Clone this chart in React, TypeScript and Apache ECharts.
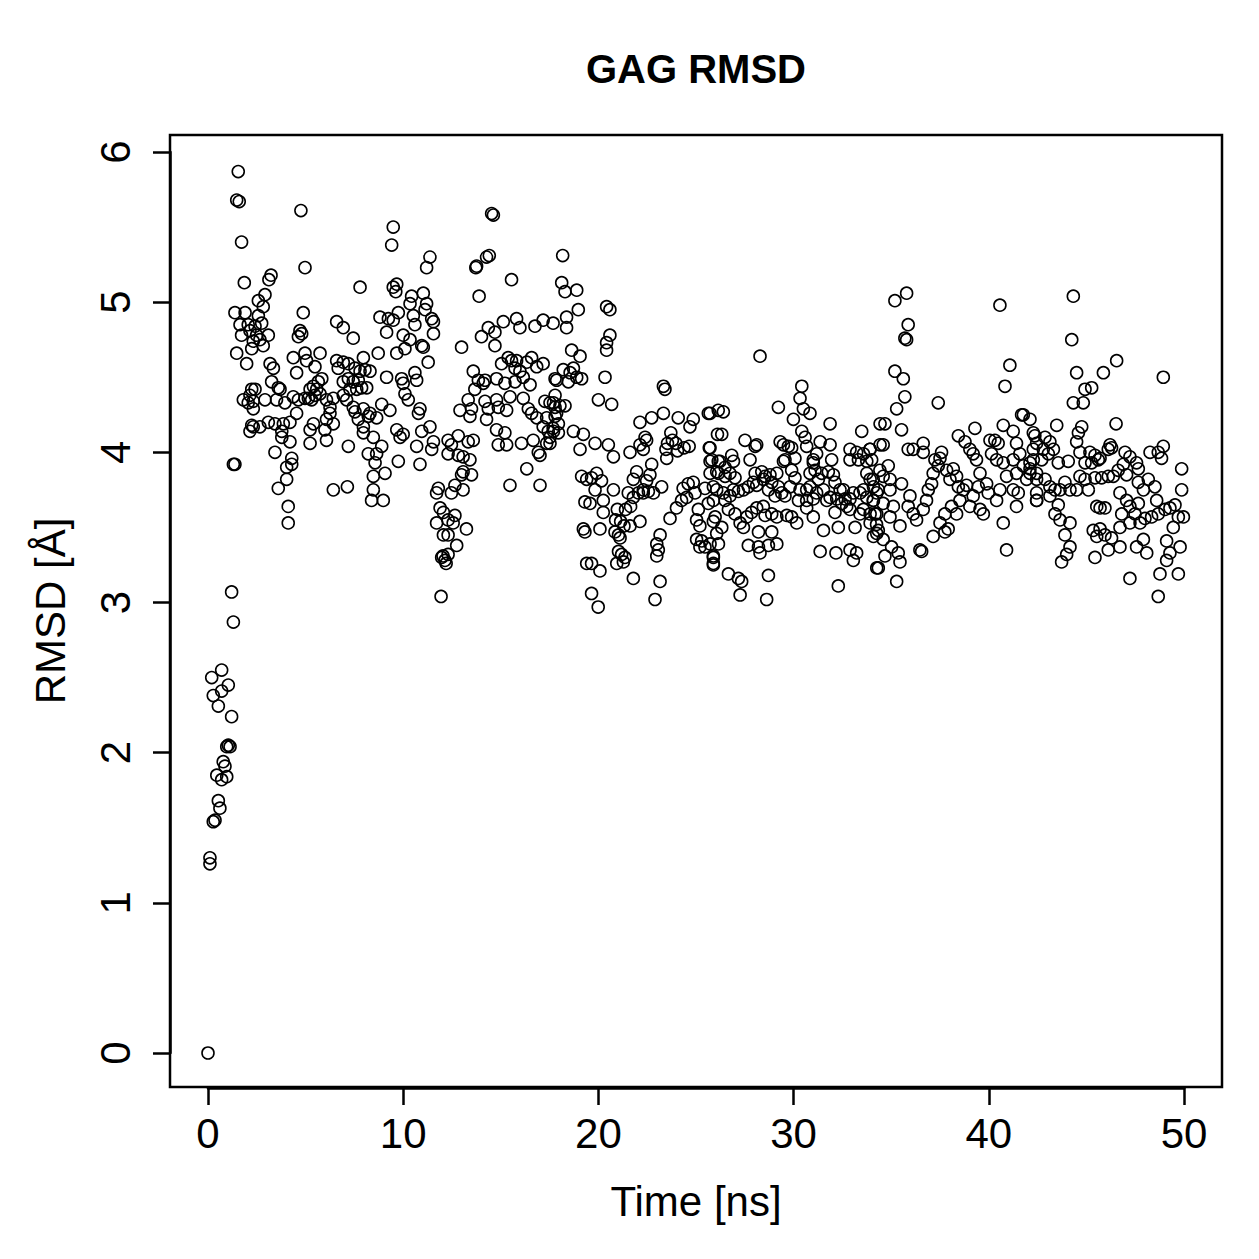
import React, { useEffect, useRef } from "react";
import * as echarts from "echarts";

// [time (ns), RMSD (Å)], grouped by time range
const early: number[][] = [
  [0, 0], [0.1, 1.3], [0.1, 1.26], [0.19, 2.5], [0.27, 2.38], [0.27, 1.54], [0.36, 1.55], [0.45, 1.85],
  [0.53, 1.68], [0.53, 2.31], [0.61, 1.63], [0.7, 1.82], [0.7, 2.55], [0.7, 2.41], [0.78, 1.94], [0.87, 1.91],
  [0.96, 1.84], [0.96, 2.04], [1.04, 2.05], [1.04, 2.45], [1.13, 2.04], [1.21, 2.24], [1.21, 3.07], [1.3, 2.87],
  [1.3, 3.92],
];

const seg1: number[][] = [
  [1.55, 5.87], [1.47, 5.68], [1.6, 5.67], [4.76, 5.61], [9.49, 5.5], [9.41, 5.38], [1.72, 5.4], [4.97, 5.23],
  [3.23, 5.18], [3.12, 5.15], [1.86, 5.13], [7.79, 5.1], [9.49, 5.1], [9.62, 5.07], [2.92, 5.05], [2.58, 5.01],
  [2.83, 4.97], [1.38, 4.93], [1.9, 4.93], [2.58, 4.91], [2.75, 4.86], [4.88, 4.93], [1.64, 4.85], [2.06, 4.85],
  [2.15, 4.81], [1.72, 4.78], [3.09, 4.78], [2.66, 4.75], [2.83, 4.71], [2.32, 4.74], [2.24, 4.69], [4.71, 4.81],
  [4.8, 4.79], [4.63, 4.77], [6.59, 4.87], [6.93, 4.83], [7.44, 4.76], [8.81, 4.9], [9.24, 4.89], [9.49, 4.88],
  [9.15, 4.8], [1.47, 4.66], [1.98, 4.59], [9.67, 4.66], [8.72, 4.66], [5.74, 4.66], [4.97, 4.66], [4.37, 4.63],
  [5.05, 4.61], [4.54, 4.53], [3.18, 4.59], [3.35, 4.56], [5.48, 4.57], [6.59, 4.61], [6.93, 4.6], [7.19, 4.59],
  [7.53, 4.56], [7.79, 4.54], [8.04, 4.55], [8.3, 4.54], [7.96, 4.63], [6.67, 4.56], [9.15, 4.5], [3.26, 4.47],
  [3.6, 4.43], [3.69, 4.42], [5.83, 4.49], [5.65, 4.47], [5.4, 4.44], [5.23, 4.42], [5.57, 4.42], [5.74, 4.39],
  [5.48, 4.38], [5.14, 4.36], [5.31, 4.35], [6.93, 4.47], [7.19, 4.49], [7.44, 4.47], [7.7, 4.48], [7.27, 4.42],
  [7.62, 4.42], [7.87, 4.43], [8.13, 4.43], [2.41, 4.42], [2.15, 4.38], [1.81, 4.35], [2.32, 4.34], [2.32, 4.29],
  [2.92, 4.35], [3.51, 4.35], [3.94, 4.33], [4.37, 4.37], [4.63, 4.35], [4.97, 4.36], [4.54, 4.26], [4.2, 4.2],
  [6.07, 4.35], [6.42, 4.36], [6.25, 4.3], [6.25, 4.26], [6.07, 4.22], [6.42, 4.19], [5.99, 4.15], [6.07, 4.08],
  [6.93, 4.38], [7.1, 4.35], [7.44, 4.3], [7.53, 4.27], [7.96, 4.29], [8.3, 4.26], [8.21, 4.24], [8.64, 4.23],
  [8.9, 4.32], [9.32, 4.28], [3.09, 4.2], [3.43, 4.19], [3.86, 4.19], [2.24, 4.18], [2.15, 4.14], [2.66, 4.17],
  [3.78, 4.14], [3.78, 4.1], [4.2, 4.07], [3.43, 4.0], [5.23, 4.15], [5.23, 4.06], [5.4, 4.19], [7.19, 4.04],
  [7.7, 4.22], [7.96, 4.17], [7.96, 4.13], [8.47, 4.1], [8.21, 3.99], [8.64, 3.99], [8.9, 4.04], [8.56, 3.93],
  [9.07, 3.86], [8.47, 3.84], [8.47, 3.75], [8.98, 3.68], [8.38, 3.68], [1.38, 3.92], [4.29, 3.96], [4.29, 3.92],
  [4.03, 3.9], [4.03, 3.82], [3.6, 3.76], [4.11, 3.64], [4.11, 3.53], [6.42, 3.75], [7.14, 3.77], [9.67, 4.15],
  [9.84, 4.1], [9.75, 3.94], [2.41, 4.84], [2.49, 4.78], [2.24, 4.42], [2.06, 4.33], [2.32, 4.17],
];

const seg2: number[][] = [
  [14.53, 5.59], [14.62, 5.58], [11.37, 5.3], [11.2, 5.23], [14.41, 5.31], [14.27, 5.3], [13.76, 5.24], [13.72, 5.23],
  [15.55, 5.15], [13.89, 5.04], [9.67, 5.12], [10.43, 5.04], [11.03, 5.06], [10.35, 4.99], [11.2, 4.99], [11.12, 4.95],
  [9.75, 4.93], [10.52, 4.91], [10.6, 4.85], [11.46, 4.89], [11.55, 4.87], [11.55, 4.79], [10.0, 4.78], [10.35, 4.75],
  [10.09, 4.69], [10.95, 4.71], [11.03, 4.7], [11.28, 4.6], [12.99, 4.7], [14.01, 4.77], [14.36, 4.83], [14.7, 4.8],
  [14.7, 4.71], [15.13, 4.87], [15.81, 4.89], [15.98, 4.83], [16.75, 4.84], [17.17, 4.88], [9.92, 4.49], [10.0, 4.46],
  [10.6, 4.53], [10.69, 4.48], [10.09, 4.39], [10.26, 4.35], [10.86, 4.29], [10.78, 4.26], [10.0, 4.12], [10.95, 4.14],
  [11.37, 4.17], [10.69, 4.04], [11.55, 4.07], [11.46, 4.02], [10.86, 3.92], [12.3, 4.08], [12.47, 4.05], [12.82, 4.11],
  [13.33, 4.07], [13.59, 4.08], [12.3, 3.99], [12.82, 3.98], [13.07, 3.97], [13.42, 3.95], [13.07, 3.87], [12.99, 3.85],
  [13.5, 3.85], [13.07, 3.75], [12.65, 3.78], [12.47, 3.73], [11.8, 3.76], [11.71, 3.73], [11.89, 3.63], [12.06, 3.6],
  [11.71, 3.53], [12.3, 3.55], [12.65, 3.58], [12.56, 3.53], [13.24, 3.49], [12.06, 3.45], [12.3, 3.45], [12.74, 3.38],
  [11.97, 3.3], [12.3, 3.32], [11.94, 3.04], [12.14, 3.28], [12.04, 3.31], [12.2, 3.26], [13.59, 4.54], [13.85, 4.48],
  [14.19, 4.48], [14.1, 4.46], [13.67, 4.42], [13.33, 4.35], [12.91, 4.28], [13.5, 4.29], [13.42, 4.24], [14.19, 4.34],
  [14.36, 4.29], [14.27, 4.22], [14.78, 4.15], [15.21, 4.13], [14.87, 4.05], [15.3, 4.05], [14.78, 4.35], [14.87, 4.3],
  [15.3, 4.28], [15.47, 4.37], [14.78, 4.49], [15.21, 4.46], [15.73, 4.47], [15.04, 4.59], [15.38, 4.63], [15.55, 4.61],
  [15.81, 4.61], [15.73, 4.56], [15.98, 4.54], [16.15, 4.5], [16.33, 4.6], [16.58, 4.63], [16.84, 4.57], [17.17, 4.59],
  [16.5, 4.45], [16.15, 4.36], [16.41, 4.29], [16.58, 4.26], [16.84, 4.23], [16.06, 4.06], [16.66, 4.08], [16.92, 4.0],
  [17.01, 3.98], [17.35, 4.06], [16.33, 3.89], [15.47, 3.78], [17.01, 3.78], [17.26, 4.34], [17.52, 4.33], [17.78, 4.3],
  [17.86, 4.26], [17.35, 4.23], [17.17, 4.17], [17.43, 4.14], [17.68, 4.16], [17.95, 4.13], [17.52, 4.1], [17.86, 4.48],
];

const seg3: number[][] = [
  [18.17, 5.31], [18.12, 5.13], [18.29, 5.07], [18.89, 5.08], [18.97, 4.95], [18.37, 4.9], [18.37, 4.83], [17.68, 4.86],
  [20.42, 4.97], [20.59, 4.95], [20.59, 4.78], [20.42, 4.73], [20.42, 4.68], [18.63, 4.68], [19.06, 4.64], [18.2, 4.55],
  [18.55, 4.53], [18.72, 4.56], [18.89, 4.5], [19.14, 4.49], [18.46, 4.47], [17.78, 4.49], [20.34, 4.5], [23.33, 4.44],
  [23.41, 4.42], [20.0, 4.35], [20.68, 4.32], [17.78, 4.38], [17.7, 4.33], [18.03, 4.31], [18.29, 4.31], [17.78, 4.24],
  [17.95, 4.19], [17.7, 4.14], [17.52, 4.06], [18.72, 4.14], [19.23, 4.12], [19.83, 4.06], [20.51, 4.05], [20.77, 3.97],
  [19.06, 4.02], [22.13, 4.2], [22.73, 4.23], [23.33, 4.26], [24.09, 4.23], [24.86, 4.22], [24.69, 4.17], [25.63, 4.26],
  [26.14, 4.28], [22.39, 4.1], [22.47, 4.08], [22.13, 4.05], [22.3, 4.02], [21.62, 4.0], [23.71, 4.13], [23.79, 4.08],
  [23.97, 4.06], [23.54, 4.06], [23.46, 4.02], [24.05, 4.01], [24.39, 4.03], [24.65, 4.04], [25.68, 4.03], [26.1, 4.12],
  [23.5, 3.96], [22.73, 3.92], [21.96, 3.87], [21.79, 3.82], [22.64, 3.85], [22.47, 3.81], [22.3, 3.75], [19.14, 3.84],
  [19.4, 3.82], [19.65, 3.83], [19.91, 3.86], [20.16, 3.81], [19.83, 3.75], [19.31, 3.67], [19.57, 3.66], [20.25, 3.68],
  [20.77, 3.75], [20.25, 3.6], [21.53, 3.73], [21.79, 3.7], [22.05, 3.73], [22.3, 3.73], [22.56, 3.74], [22.82, 3.73],
  [23.24, 3.77], [21.65, 3.64], [21.39, 3.62], [20.97, 3.62], [20.88, 3.55], [21.14, 3.54], [21.31, 3.51], [22.13, 3.54],
  [21.62, 3.51], [19.23, 3.49], [19.31, 3.47], [20.08, 3.49], [20.85, 3.47], [21.03, 3.45], [21.11, 3.43], [21.03, 3.34],
  [21.19, 3.32], [21.36, 3.3], [21.28, 3.27], [20.94, 3.26], [21.79, 3.16], [19.4, 3.26], [19.65, 3.26], [20.08, 3.21],
  [19.65, 3.06], [19.99, 2.97], [23.16, 3.45], [22.99, 3.39], [23.07, 3.35], [22.99, 3.31], [23.16, 3.14], [22.9, 3.02],
  [23.67, 3.56], [24.0, 3.63], [24.26, 3.68], [24.52, 3.7], [24.34, 3.76], [24.6, 3.79], [24.86, 3.8], [24.95, 3.73],
  [25.12, 3.62], [25.03, 3.55], [25.2, 3.51], [25.03, 3.42], [25.29, 3.41], [25.46, 3.37], [25.2, 3.37], [25.72, 3.39],
  [25.89, 3.54], [26.06, 3.46], [25.89, 3.3], [25.89, 3.26], [25.63, 3.66], [25.46, 3.76], [25.72, 3.86], [26.06, 3.87],
  [25.72, 3.94], [26.14, 3.94],
];

const seg4: number[][] = [
  [28.28, 4.64], [30.42, 4.44], [30.33, 4.36], [30.5, 4.29], [30.84, 4.26], [29.22, 4.3], [29.99, 4.22], [31.87, 4.19],
  [25.72, 4.26], [26.4, 4.27], [26.32, 4.12], [27.51, 4.08], [28.03, 4.04], [28.11, 4.05], [29.31, 4.07], [29.48, 4.05],
  [29.73, 4.04], [29.9, 4.03], [30.07, 3.96], [29.48, 3.94], [30.42, 4.14], [30.59, 4.1], [30.67, 4.04], [31.36, 4.07],
  [31.87, 4.05], [31.18, 3.99], [31.01, 3.95], [31.95, 3.95], [33.49, 4.14], [32.89, 4.02], [33.23, 4.0], [33.58, 3.99],
  [33.92, 4.02], [32.89, 3.95], [33.32, 3.95], [33.75, 3.94], [34.43, 4.19], [34.43, 4.05], [25.72, 4.03], [25.81, 3.95],
  [26.23, 3.94], [26.49, 3.9], [26.83, 3.98], [26.92, 3.94], [26.74, 3.86], [27.0, 3.83], [26.15, 3.86], [26.49, 3.84],
  [25.89, 3.77], [26.06, 3.75], [26.4, 3.73], [25.89, 3.68], [26.49, 3.68], [27.77, 3.95], [28.03, 3.86], [28.37, 3.87],
  [28.54, 3.84], [28.79, 3.85], [29.14, 3.86], [27.94, 3.8], [27.68, 3.77], [27.43, 3.75], [27.17, 3.74], [26.92, 3.75],
  [26.74, 3.71], [28.11, 3.78], [28.45, 3.82], [28.88, 3.8], [28.71, 3.75], [29.22, 3.77], [29.39, 3.73], [29.05, 3.71],
  [29.56, 3.71], [29.56, 3.95], [29.9, 3.88], [30.07, 3.83], [29.82, 3.77], [30.33, 3.75], [30.25, 3.68], [30.67, 3.75],
  [30.84, 3.77], [30.84, 3.86], [31.01, 3.93], [31.1, 3.88], [31.27, 3.82], [31.18, 3.73], [31.01, 3.69], [30.67, 3.68],
  [31.53, 3.75], [31.7, 3.68], [31.44, 3.86], [31.78, 3.87], [32.04, 3.85], [32.12, 3.8], [32.38, 3.75], [32.55, 3.75],
  [32.64, 3.69], [32.21, 3.69], [31.87, 3.7], [32.47, 3.66], [32.72, 3.64], [32.89, 3.69], [33.06, 3.73], [33.75, 3.86],
  [33.92, 3.82], [33.58, 3.75], [33.4, 3.73], [33.75, 3.7], [34.09, 3.77], [34.26, 3.73], [34.09, 3.68], [34.26, 3.59],
  [33.92, 3.59], [33.58, 3.62], [25.98, 3.57], [26.32, 3.5], [26.66, 3.62], [27.0, 3.59], [27.26, 3.53], [27.43, 3.5],
  [27.6, 3.57], [27.85, 3.6], [28.11, 3.63], [28.45, 3.64], [28.54, 3.58], [28.88, 3.59], [29.14, 3.57], [29.65, 3.58],
  [29.9, 3.57], [30.16, 3.53], [30.67, 3.63], [31.01, 3.57], [32.12, 3.6], [32.29, 3.5], [33.15, 3.5], [32.89, 3.62],
  [33.4, 3.59], [33.92, 3.53], [34.09, 3.44], [34.26, 3.46], [26.15, 3.39], [25.89, 3.31], [25.89, 3.25], [28.2, 3.47],
  [28.88, 3.47], [29.14, 3.39], [27.68, 3.38], [28.2, 3.37], [28.28, 3.33], [28.71, 3.38], [31.53, 3.48], [31.36, 3.34],
  [32.17, 3.33], [32.89, 3.35], [33.06, 3.28], [33.23, 3.33], [34.26, 3.23], [26.66, 3.19], [27.17, 3.16], [27.34, 3.14],
  [27.26, 3.05], [28.71, 3.18], [28.62, 3.02], [32.29, 3.11],
];

const seg5: number[][] = [
  [35.79, 5.06], [35.19, 5.01], [40.57, 4.98], [35.87, 4.85], [35.7, 4.76], [35.79, 4.75], [41.08, 4.58], [40.83, 4.44],
  [35.19, 4.54], [35.62, 4.49], [35.7, 4.37], [35.28, 4.29], [34.68, 4.19], [35.53, 4.15], [37.41, 4.33], [41.68, 4.25],
  [33.91, 4.02], [34.59, 4.05], [34.0, 3.95], [34.42, 3.88], [34.85, 3.91], [34.08, 3.82], [34.59, 3.84], [34.94, 3.82],
  [34.34, 3.75], [34.94, 3.75], [34.08, 3.68], [34.59, 3.66], [35.11, 3.64], [34.17, 3.59], [34.94, 3.57], [34.25, 3.52],
  [34.34, 3.48], [34.59, 3.42], [35.45, 3.51], [35.02, 3.37], [35.36, 3.33], [35.45, 3.27], [34.68, 3.31], [34.34, 3.23],
  [35.28, 3.14], [36.56, 3.34], [35.53, 3.79], [35.96, 3.71], [35.87, 3.64], [36.13, 3.59], [36.3, 3.55], [36.64, 3.62],
  [36.81, 3.68], [36.9, 3.75], [37.07, 3.79], [37.15, 3.86], [37.41, 3.91], [37.24, 3.95], [37.58, 4.0], [37.5, 3.96],
  [37.84, 3.88], [38.18, 3.89], [38.01, 3.82], [38.35, 3.84], [38.44, 3.77], [38.69, 3.75], [38.86, 3.78], [38.52, 3.68],
  [38.09, 3.64], [38.35, 3.59], [37.75, 3.59], [37.5, 3.53], [37.92, 3.49], [37.75, 3.47], [37.15, 3.44], [36.47, 3.35],
  [35.87, 4.02], [36.13, 4.02], [36.64, 4.06], [36.64, 4.0], [38.44, 4.11], [38.78, 4.07], [39.03, 4.02], [39.29, 4.16],
  [39.2, 3.99], [39.37, 3.95], [39.55, 3.86], [39.46, 3.77], [39.2, 3.71], [39.03, 3.64], [39.55, 3.62], [39.72, 3.59],
  [39.97, 3.73], [39.89, 3.79], [40.06, 4.08], [40.31, 4.08], [40.48, 4.06], [40.14, 3.99], [40.4, 3.95], [40.74, 4.18],
  [40.74, 3.93], [40.91, 3.84], [40.57, 3.75], [40.4, 3.68], [41.25, 4.14], [41.42, 4.06], [41.59, 3.99], [41.25, 3.95],
  [41.42, 3.86], [41.25, 3.75], [41.51, 3.73], [41.42, 3.64], [41.77, 3.91], [42.11, 3.93], [42.28, 4.02], [42.36, 4.11],
  [41.77, 4.25], [40.74, 3.53], [40.91, 3.35], [42.45, 3.73], [42.45, 3.68], [41.94, 3.82],
];

const seg6: number[][] = [
  [44.33, 5.04], [44.25, 4.75], [46.55, 4.61], [45.87, 4.53], [44.5, 4.53], [48.94, 4.5], [45.27, 4.43], [44.93, 4.42],
  [44.84, 4.33], [44.33, 4.33], [46.52, 4.19], [49.88, 3.89], [49.88, 3.75], [42.11, 4.22], [43.48, 4.18], [44.76, 4.17],
  [44.59, 4.13], [44.5, 4.07], [44.67, 4.0], [42.28, 4.13], [42.45, 4.06], [42.88, 4.1], [43.13, 4.07], [42.79, 4.02],
  [43.05, 3.99], [43.31, 4.02], [42.28, 3.95], [42.71, 3.95], [42.11, 3.89], [42.45, 3.86], [43.56, 3.93], [44.07, 3.94],
  [44.93, 3.93], [45.18, 4.0], [45.44, 3.98], [45.7, 3.96], [45.27, 3.93], [45.61, 3.95], [46.21, 4.05], [46.29, 4.03],
  [46.12, 4.02], [46.98, 4.0], [47.23, 3.97], [47.57, 3.93], [47.66, 3.89], [46.89, 3.92], [46.63, 3.88], [46.38, 3.84],
  [48.26, 4.0], [48.68, 4.0], [48.94, 4.04], [48.85, 3.96], [47.06, 3.85], [42.11, 3.86], [42.45, 3.82], [42.88, 3.82],
  [43.13, 3.77], [43.39, 3.75], [43.65, 3.75], [43.9, 3.8], [44.16, 3.75], [44.5, 3.75], [44.67, 3.84], [44.93, 3.82],
  [45.1, 3.75], [45.44, 3.83], [45.78, 3.83], [46.12, 3.84], [42.45, 3.68], [43.13, 3.71], [43.56, 3.65], [43.39, 3.59],
  [43.65, 3.55], [44.16, 3.53], [43.9, 3.45], [44.16, 3.37], [43.99, 3.32], [43.73, 3.27], [45.35, 3.48], [45.7, 3.49],
  [45.53, 3.44], [45.95, 3.45], [46.29, 3.43], [45.7, 3.63], [45.53, 3.64], [45.95, 3.63], [46.72, 3.73], [47.06, 3.68],
  [47.23, 3.64], [47.66, 3.8], [47.92, 3.75], [48.17, 3.82], [48.51, 3.77], [48.6, 3.68], [47.66, 3.66], [47.49, 3.59],
  [46.81, 3.59], [46.72, 3.5], [47.23, 3.53], [47.75, 3.53], [48.0, 3.56], [48.34, 3.57], [48.68, 3.59], [49.03, 3.62],
  [49.28, 3.63], [49.54, 3.65], [49.71, 3.57], [49.97, 3.57], [49.45, 3.5], [49.11, 3.41], [49.8, 3.37], [49.28, 3.33],
  [49.11, 3.28], [48.77, 3.19], [49.71, 3.19], [48.68, 3.04], [47.23, 3.16], [47.92, 3.42], [48.09, 3.33], [47.57, 3.37],
  [46.72, 3.37], [46.12, 3.35], [45.44, 3.3],
];

const xTicks = [0, 10, 20, 30, 40, 50];
const yTicks = [0, 1, 2, 3, 4, 5, 6];

const FONT = "'Liberation Sans', Arial, Helvetica, sans-serif";

export default function App() {
  const ref = useRef<HTMLDivElement>(null);
  useEffect(() => {
    if (!ref.current) return;
    const chart = echarts.init(ref.current, undefined, { renderer: "svg" });
    const data = [...early, ...seg1, ...seg2, ...seg3, ...seg4, ...seg5, ...seg6];
    const axisLine = { show: true, onZero: false, lineStyle: { color: "#000", width: 2.5 } };
    const axisTick = { show: true, inside: false, length: 17, lineStyle: { color: "#000", width: 2.5 } };
    chart.setOption({
      animation: false,
      backgroundColor: "#fff",
      grid: { left: 208, top: 152, width: 976, height: 901, containLabel: false },
      xAxis: {
        type: "value",
        min: xTicks[0],
        max: xTicks[xTicks.length - 1],
        interval: 10,
        position: "bottom",
        offset: 35,
        splitLine: { show: false },
        axisLine,
        axisTick,
        axisLabel: { fontSize: 42, color: "#000", fontFamily: FONT, margin: 24 },
      },
      yAxis: {
        type: "value",
        min: yTicks[0],
        max: yTicks[yTicks.length - 1],
        interval: 1,
        position: "left",
        offset: 38,
        splitLine: { show: false },
        axisLine,
        axisTick,
        axisLabel: { fontSize: 42, color: "#000", fontFamily: FONT, margin: 34, rotate: 90 },
      },
      graphic: [
        {
          type: "rect",
          shape: { x: 170, y: 135, width: 1052, height: 952 },
          style: { fill: "none", stroke: "#000", lineWidth: 2.5 },
          z: 10,
        },
        {
          type: "text",
          x: 696,
          y: 69,
          style: {
            text: "GAG RMSD",
            font: `bold 40px ${FONT}`,
            fill: "#000",
            textAlign: "center",
            textVerticalAlign: "middle",
          },
        },
        {
          type: "text",
          x: 696,
          y: 1201,
          style: {
            text: "Time [ns]",
            font: `42px ${FONT}`,
            fill: "#000",
            textAlign: "center",
            textVerticalAlign: "middle",
          },
        },
        {
          type: "text",
          x: 50,
          y: 611,
          rotation: Math.PI / 2,
          style: {
            text: "RMSD [Å]",
            font: `42px ${FONT}`,
            fill: "#000",
            textAlign: "center",
            textVerticalAlign: "middle",
          },
        },
      ],
      series: [
        {
          type: "scatter",
          data,
          clip: false,
          symbol: "circle",
          symbolSize: 12,
          itemStyle: { color: "rgba(0,0,0,0)", borderColor: "#000", borderWidth: 1.6, opacity: 1 },
          emphasis: { disabled: true },
        },
      ],
    });
    return () => chart.dispose();
  }, []);
  return (
    <div
      ref={ref}
      style={{ position: "fixed", left: 0, top: 0, width: 1259, height: 1259, background: "#fff" }}
    />
  );
}
